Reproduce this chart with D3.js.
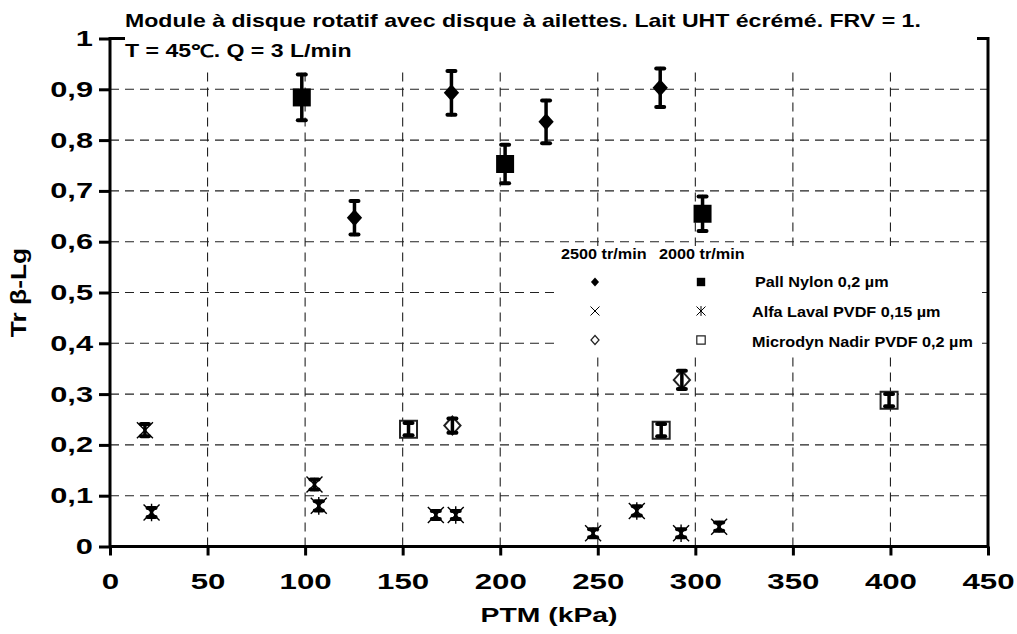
<!DOCTYPE html>
<html>
<head>
<meta charset="utf-8">
<script src="https://cdn.jsdelivr.net/npm/d3@7"></script>
<style>
  body { margin: 0; background: #fff; }
  svg { display: block; }
  text { font-family: "Liberation Sans", Arial, sans-serif; font-weight: bold; fill: #000; }
</style>
</head>
<body>
<div id="chart"></div>
<script>
'use strict';

const xTicks = [0, 50, 100, 150, 200, 250, 300, 350, 400, 450];
const yTicks = [0, 0.1, 0.2, 0.3, 0.4, 0.5, 0.6, 0.7, 0.8, 0.9, 1];

// [PTM (kPa), Tr beta-Lg, error]
const pall2500 = [[125.3, 0.647, 0.033], [175, 0.893, 0.043], [223.5, 0.836, 0.042], [282, 0.903, 0.038]];
const pall2000 = [[98.3, 0.884, 0.045], [202.5, 0.753, 0.038], [303.7, 0.655, 0.034]];
const alfa2500 = [[17.9, 0.229, 0.012], [104.8, 0.122, 0.01], [167, 0.062, 0.008], [247.6, 0.026, 0.008], [312.2, 0.039, 0.008]];
const alfa2000 = [[21.3, 0.067, 0.009], [107, 0.08, 0.009], [177.2, 0.062, 0.008], [270, 0.07, 0.009], [292.7, 0.026, 0.008]];
const micro2500 = [[175.5, 0.238, 0.014], [293.1, 0.328, 0.018]];
const micro2000 = [[153, 0.231, 0.012], [282.5, 0.229, 0.012], [399.3, 0.288, 0.012]];

const titleLines = ["Module à disque rotatif avec disque à ailettes. Lait UHT écrémé. FRV = 1.", "T = 45℃. Q = 3 L/min"];
const speedLabels = ["2500 tr/min", "2000 tr/min"];
const membraneNames = ["Pall Nylon 0,2 µm", "Alfa Laval PVDF 0,15 µm", "Microdyn Nadir PVDF 0,2 µm"];
const xTitle = "PTM (kPa)";
const yTitle = "Tr β-Lg";

const width = 1017, height = 634;
const padding = { top: 38.5, right: 29, bottom: 87.5, left: 110 };

// the source picture is stretched sideways, so scale glyphs on x
function widen(sel, k) {
  sel.each(function () {
    let t = d3.select(this);
    let x0 = +t.attr('x') || 0;
    let y0 = +t.attr('y') || 0;
    t.attr('x', 0).attr('y', 0)
      .attr('transform', 'translate(' + x0 + ',' + y0 + ') scale(' + k + ',1)');
  });
}

function markerPath(type, s) {
  if (type == 'diamond') return `M0,${-s}L${s * 0.9},0L0,${s}L${-s * 0.9},0Z`;
  if (type == 'square') return `M${-s},${-s}h${2 * s}v${2 * s}h${-2 * s}Z`;
  if (type == 'x') return `M${-s},${-s}L${s},${s}M${-s},${s}L${s},${-s}`;
  // asterisk
  return `M${-s},${-s}L${s},${s}M${-s},${s}L${s},${-s}M0,${-s * 1.1}V${s * 1.1}`;
}

function styleMarker(sel, kind, small) {
  if (kind == 'filled') {
    sel.attr('fill', '#000').attr('stroke', 'none');
  } else if (kind == 'open') {
    sel.attr('fill', '#fff').attr('stroke', '#222').attr('stroke-width', small ? 1.2 : 2);
  } else {
    sel.attr('fill', 'none').attr('stroke', '#000').attr('stroke-width', small ? 1 : 1.4);
  }
}

const series = [
  { data: pall2500, type: 'diamond', kind: 'filled', size: 8.5, legendSize: 4.5 },
  { data: pall2000, type: 'square', kind: 'filled', size: 9, legendSize: 4.2 },
  { data: alfa2500, type: 'x', kind: 'line', size: 8, legendSize: 4.5 },
  { data: alfa2000, type: 'star', kind: 'line', size: 8, legendSize: 4.5 },
  { data: micro2500, type: 'diamond', kind: 'open', size: 9, legendSize: 4.5 },
  { data: micro2000, type: 'square', kind: 'open', size: 8.5, legendSize: 4.2 },
];

const svg = d3.select('#chart').append('svg')
  .attr('width', width)
  .attr('height', height);

svg.append('rect').attr('width', width).attr('height', height).attr('fill', '#fff');

const x = d3.scaleLinear().domain([0, 450]).range([padding.left, width - padding.right]);
const y = d3.scaleLinear().domain([0, 1]).range([height - padding.bottom, padding.top]);

// grid
const grid = svg.append('g').attr('stroke', '#222').attr('stroke-width', 1.1).attr('stroke-dasharray', '9,6');
grid.selectAll('line.v').data(xTicks.slice(1, -1)).enter()
  .append('line')
  .attr('x1', d => x(d)).attr('x2', d => x(d))
  .attr('y1', y(0)).attr('y2', y(1));
grid.selectAll('line.h').data(yTicks.slice(1, -1)).enter()
  .append('line')
  .attr('x1', x(0)).attr('x2', x(450))
  .attr('y1', d => y(d)).attr('y2', d => y(d));

// plot frame
svg.append('rect')
  .attr('x', x(0)).attr('y', y(1))
  .attr('width', x(450) - x(0)).attr('height', y(0) - y(1))
  .attr('fill', 'none').attr('stroke', '#000').attr('stroke-width', 3);

// title box hides top of frame
svg.append('rect')
  .attr('x', 125).attr('y', 0)
  .attr('width', 852).attr('height', 69)
  .attr('fill', '#fff');

const title = svg.append('g').attr('font-size', 17.5);
title.selectAll('text').data(titleLines).enter()
  .append('text')
  .attr('x', 125)
  .attr('y', (d, i) => 27 + i * 30)
  .text(d => d)
  .call(widen, 1.32);

// axes
let fmt = d => (d == 0 || d == 1) ? String(d) : d.toFixed(1).replace('.', ',');

let yAxis = svg.append('g')
  .attr('transform', 'translate(' + x(0) + ',0)')
  .call(d3.axisLeft(y).tickValues(yTicks).tickFormat(fmt).tickSize(11).tickSizeOuter(0).tickPadding(6));
yAxis.select('.domain').remove();
yAxis.selectAll('line').attr('stroke-width', 3);
yAxis.selectAll('text').attr('font-size', 22).attr('font-family', null).call(widen, 1.4);

let xAxis = svg.append('g')
  .attr('transform', 'translate(0,' + y(0) + ')')
  .call(d3.axisBottom(x).tickValues(xTicks).tickSize(9).tickSizeOuter(0));
xAxis.select('.domain').remove();
xAxis.selectAll('line').attr('stroke-width', 3);
xAxis.selectAll('text').attr('font-size', 22).attr('font-family', null).attr('y', 27).call(widen, 1.42);

svg.append('text')
  .attr('x', (x(0) + x(450)) / 2).attr('y', 622)
  .attr('text-anchor', 'middle').attr('font-size', 21)
  .text(xTitle).call(widen, 1.35);

svg.append('text')
  .attr('transform', 'translate(26,' + (y(0) + y(1)) / 2 + ') rotate(-90) scale(1.2,1)')
  .attr('text-anchor', 'middle').attr('font-size', 22)
  .text(yTitle);

// legend
let legend = svg.append('g');
legend.append('rect')
  .attr('x', 557).attr('y', 246).attr('width', 425).attr('height', 110)
  .attr('fill', '#fff');
legend.selectAll('text.speed').data(speedLabels).enter()
  .append('text')
  .attr('x', (d, i) => 561 + i * 98).attr('y', 259)
  .attr('font-size', 15)
  .text(d => d).call(widen, 1.08);
legend.selectAll('text.name').data(membraneNames).enter()
  .append('text')
  .attr('x', (d, i) => i == 0 ? 755 : 752).attr('y', (d, i) => 287 + i * 30)
  .attr('font-size', 15)
  .text(d => d).call(widen, 1.08);
series.forEach((s, i) => {
  let row = Math.floor(i / 2), col = i % 2;
  legend.append('path')
    .attr('transform', 'translate(' + (595 + col * 106) + ',' + (282 + row * 29) + ')')
    .attr('d', markerPath(s.type, s.legendSize))
    .call(styleMarker, s.kind, true);
});

// markers, then error bars on top
series.forEach((s) => {
  let g = svg.append('g');
  g.selectAll('path').data(s.data).enter()
    .append('path')
    .attr('transform', d => 'translate(' + x(d[0]) + ',' + y(d[1]) + ')')
    .attr('d', markerPath(s.type, s.size))
    .call(styleMarker, s.kind, false);

  let bars = svg.append('g').attr('stroke', '#000').attr('stroke-linecap', 'round');
  let bar = bars.selectAll('g').data(s.data).enter().append('g');
  bar.append('line')
    .attr('x1', d => x(d[0])).attr('x2', d => x(d[0]))
    .attr('y1', d => y(d[1] - d[2])).attr('y2', d => y(d[1] + d[2]))
    .attr('stroke-width', 3.5);
  bar.selectAll('line.cap').data(d => [[d[0], d[1] - d[2]], [d[0], d[1] + d[2]]]).enter()
    .append('line')
    .attr('x1', d => x(d[0]) - 4).attr('x2', d => x(d[0]) + 4)
    .attr('y1', d => y(d[1])).attr('y2', d => y(d[1]))
    .attr('stroke-width', 4);
});
</script>
</body>
</html>
